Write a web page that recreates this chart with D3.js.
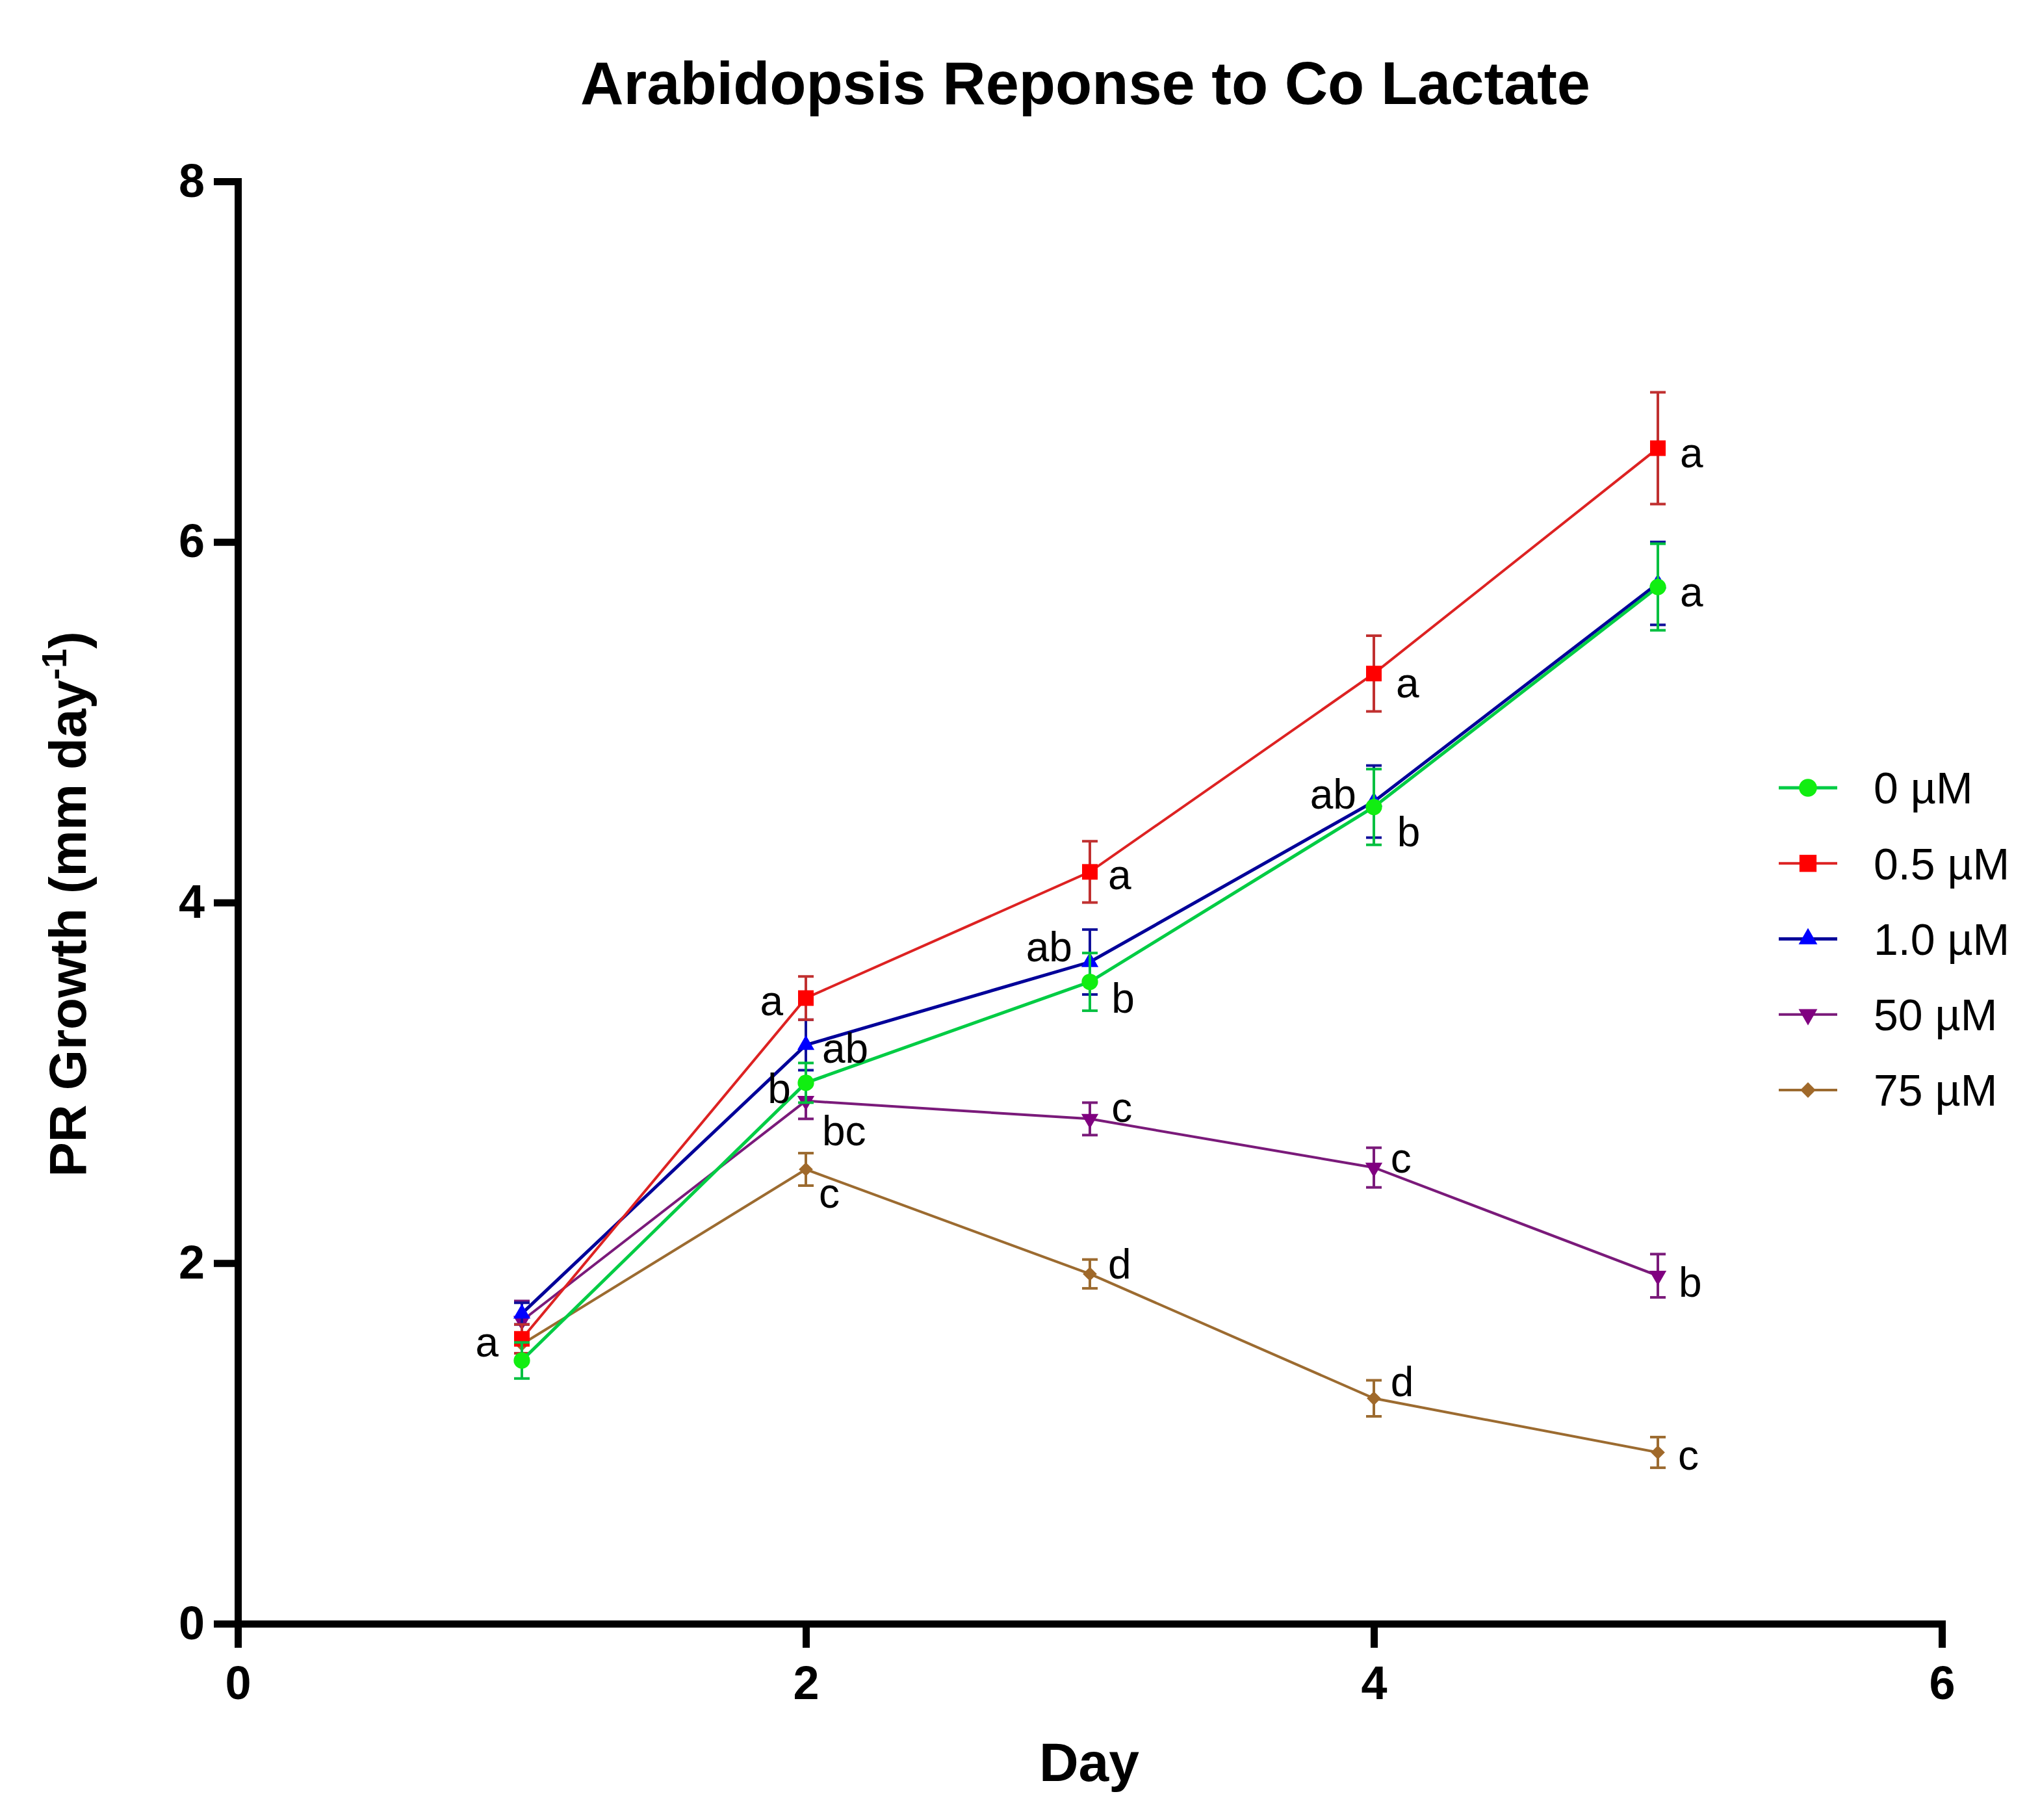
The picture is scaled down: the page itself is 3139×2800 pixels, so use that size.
<!DOCTYPE html>
<html>
<head>
<meta charset="utf-8">
<script src="https://cdn.jsdelivr.net/npm/d3@7"></script>
<style>
  html, body { margin: 0; padding: 0; background: #fff; }
  text { font-family: "Liberation Sans", Arial, sans-serif; fill: #000; }
</style>
</head>
<body>
<svg id="chart" width="3139" height="2800"></svg>
<script>
// ---------- data ----------
const days = [1, 2, 3, 4, 5];
const seriesNames = ["0 µM", "0.5 µM", "1.0 µM", "50 µM", "75 µM"];
const mean0  = [1.46, 3.00, 3.56, 4.53, 5.75];
const sem0   = [0.10, 0.11, 0.16, 0.21, 0.24];
const mean05 = [1.58, 3.47, 4.17, 5.27, 6.52];
const sem05  = [0.08, 0.12, 0.17, 0.21, 0.31];
const mean10 = [1.72, 3.21, 3.67, 4.56, 5.77];
const sem10  = [0.06, 0.14, 0.18, 0.20, 0.23];
const mean50 = [1.68, 2.90, 2.80, 2.53, 1.93];
const sem50  = [0.11, 0.10, 0.09, 0.11, 0.12];
const mean75 = [1.55, 2.52, 1.94, 1.25, 0.95];
const sem75  = [0.05, 0.09, 0.08, 0.10, 0.085];

const xTicks = [0, 2, 4, 6];
const yTicks = [0, 2, 4, 6, 8];

// significance letters: text, day position, value position, anchor
const letterText   = ["a", "a", "ab", "b", "bc", "c", "a", "ab", "b", "c", "d", "a", "ab", "b", "c", "d", "a", "a", "b", "c"];
const letterDay    = [0.918, 1.92, 2.057, 1.947, 2.057, 2.046, 3.064, 2.938, 3.076, 3.076, 3.064, 4.078, 3.938, 4.082, 4.059, 4.059, 5.078, 5.078, 5.073, 5.071];
const letterValue  = [1.48, 3.374, 3.111, 2.888, 2.653, 2.307, 4.074, 3.673, 3.389, 2.783, 1.914, 5.137, 4.52, 4.311, 2.502, 1.262, 6.413, 5.642, 1.813, 0.854];
const letterAnchor = ["end", "end", "start", "end", "start", "start", "start", "end", "start", "start", "start", "start", "end", "start", "start", "start", "start", "start", "start", "start"];

// ---------- styles ----------
const styles = [
  { name: seriesNames[0], mean: mean0,  sem: sem0,  marker: "#11EE11", line: "#00CC44", err: "#00C040", lw: 5, sym: d3.symbolCircle,   size: 500, rot: 0 },
  { name: seriesNames[1], mean: mean05, sem: sem05, marker: "#FF0000", line: "#DD2222", err: "#C03030", lw: 4, sym: d3.symbolSquare,   size: 576, rot: 0 },
  { name: seriesNames[2], mean: mean10, sem: sem10, marker: "#0000FF", line: "#000099", err: "#10109A", lw: 5, sym: d3.symbolTriangle, size: 300, rot: 0 },
  { name: seriesNames[3], mean: mean50, sem: sem50, marker: "#800080", line: "#7A1A7A", err: "#7A1A7A", lw: 4, sym: d3.symbolTriangle, size: 300, rot: 180 },
  { name: seriesNames[4], mean: mean75, sem: sem75, marker: "#A0692A", line: "#9C6B30", err: "#9C6B30", lw: 4, sym: d3.symbolDiamond2, size: 300, rot: 0 }
];
const drawOrder = [4, 3, 2, 1, 0];

// ---------- scales ----------
const svg = d3.select("#chart");
const x = d3.scaleLinear().domain([0, 6]).range([366, 2988]);
const y = d3.scaleLinear().domain([0, 8]).range([2498, 279]);

// ---------- title ----------
svg.append("text")
  .attr("x", 1670).attr("y", 160)
  .attr("text-anchor", "middle")
  .style("font-size", "92px").style("font-weight", "bold")
  .text("Arabidopsis Reponse to Co Lactate");

// ---------- axes ----------
const yAxis = d3.axisLeft(y).tickValues(yTicks).tickSize(37).tickSizeOuter(0).tickPadding(14).tickFormat(d3.format("d"));
const xAxis = d3.axisBottom(x).tickValues(xTicks).tickSize(37).tickSizeOuter(0).tickPadding(28).tickFormat(d3.format("d"));

const gy = svg.append("g").attr("transform", `translate(${x(0)},0)`).call(yAxis);
const gx = svg.append("g").attr("transform", `translate(0,${y(0)})`).call(xAxis);
[gx, gy].forEach(g => {
  g.select(".domain").attr("stroke", "#000").attr("stroke-width", 11).attr("stroke-linecap", "square");
  g.selectAll(".tick line").attr("stroke", "#000").attr("stroke-width", 11);
  g.selectAll(".tick text")
    .style("font-family", '"Liberation Sans", Arial, sans-serif')
    .style("font-size", "72px").style("font-weight", "bold").attr("fill", "#000");
});

// axis titles
svg.append("text")
  .attr("x", 1676).attr("y", 2740)
  .attr("text-anchor", "middle")
  .style("font-size", "84px").style("font-weight", "bold")
  .text("Day");

const yl = svg.append("text")
  .attr("transform", "translate(132,1391) rotate(-90)")
  .attr("text-anchor", "middle")
  .style("font-size", "80px").style("font-weight", "bold");
yl.append("tspan").text("PR Growth (mm day");
yl.append("tspan").attr("dy", "-30").style("font-size", "54px").text("-1");
yl.append("tspan").attr("dy", "30").text(")");

// ---------- series ----------
const line = d3.line().x((d, i) => x(days[i])).y(d => y(d));
const plot = svg.append("g");

drawOrder.forEach(si => {
  const s = styles[si];
  const g = plot.append("g");
  g.append("path")
    .datum(s.mean)
    .attr("fill", "none").attr("stroke", s.line).attr("stroke-width", s.lw)
    .attr("d", line);
  // error bars
  const eb = g.selectAll(".eb").data(s.mean.map((m, i) => ({ day: days[i], m, e: s.sem[i] }))).enter().append("g");
  eb.append("line")
    .attr("x1", d => x(d.day)).attr("x2", d => x(d.day))
    .attr("y1", d => y(d.m - d.e)).attr("y2", d => y(d.m + d.e))
    .attr("stroke", s.err).attr("stroke-width", 4);
  [-1, 1].forEach(sign => {
    eb.append("line")
      .attr("x1", d => x(d.day) - 12).attr("x2", d => x(d.day) + 12)
      .attr("y1", d => y(d.m + sign * d.e)).attr("y2", d => y(d.m + sign * d.e))
      .attr("stroke", s.err).attr("stroke-width", 4);
  });
  // markers
  g.selectAll(".mk").data(s.mean).enter().append("path")
    .attr("d", d3.symbol(s.sym, s.size))
    .attr("transform", (d, i) => `translate(${x(days[i])},${y(d)}) rotate(${s.rot})`)
    .attr("fill", s.marker);
});

// ---------- significance letters ----------
svg.append("g").selectAll("text").data(letterText).enter().append("text")
  .attr("x", (d, i) => x(letterDay[i]))
  .attr("y", (d, i) => y(letterValue[i]))
  .attr("text-anchor", (d, i) => letterAnchor[i])
  .style("font-size", "64px")
  .text(d => d);

// ---------- legend ----------
const legend = svg.append("g");
const legendY = d3.scalePoint().domain(seriesNames).range([1212, 1677]);
styles.forEach(s => {
  const gy0 = legendY(s.name);
  const lg = legend.append("g").attr("transform", `translate(0,${gy0})`);
  lg.append("line").attr("x1", 2737).attr("x2", 2827).attr("y1", 0).attr("y2", 0)
    .attr("stroke", s.line).attr("stroke-width", s.lw);
  lg.append("path").attr("d", d3.symbol(s.sym, s.size * 1.2))
    .attr("transform", `translate(2782,0) rotate(${s.rot})`)
    .attr("fill", s.marker);
  lg.append("text").attr("x", 2883).attr("y", 0).attr("dy", "0.36em")
    .style("font-size", "68px").text(s.name);
});
</script>
</body>
</html>
